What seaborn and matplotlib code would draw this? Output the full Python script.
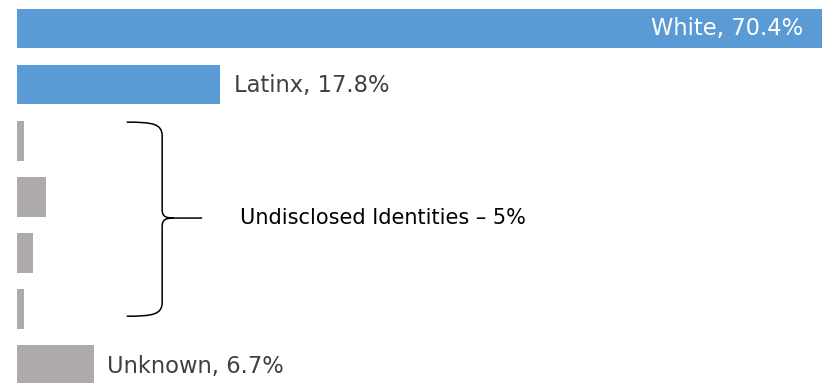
import matplotlib
matplotlib.use("Agg")
import matplotlib.pyplot as plt
import seaborn as sns
import pandas as pd
from matplotlib.path import Path
from matplotlib.patches import PathPatch

# ---- data ----
categories = ["White", "Latinx", "Undisclosed 1", "Undisclosed 2",
              "Undisclosed 3", "Undisclosed 4", "Unknown"]
values = [70.4, 17.8, 0.6, 2.5, 1.4, 0.6, 6.7]
bar_labels = ["White, 70.4%", "Latinx, 17.8%", "", "", "", "", "Unknown, 6.7%"]
group_label = "Undisclosed Identities \u2013 5%"

BLUE = "#5B9BD5"
GREY = "#AEAAAA"
colors = [BLUE, BLUE, GREY, GREY, GREY, GREY, GREY]

df = pd.DataFrame({"category": categories, "value": values})

sns.set_theme(style="white")
plt.rcParams["font.family"] = ["DejaVu Sans"]

fig = plt.figure(figsize=(8.25, 3.83), dpi=100)
ax = fig.add_axes([0, 0, 1, 1])

sns.barplot(data=df, y="category", x="value", hue="category",
            palette=colors, saturation=1, orient="h", width=0.71,
            linewidth=0, legend=False, ax=ax)

ax.set_xlim(-1.487, 70.69)
ax.set_ylim(6.321, -0.508)
ax.axis("off")

# labels
for i, (v, lab) in enumerate(zip(values, bar_labels)):
    if not lab:
        continue
    if i == 0:
        ax.text(v - 1.65, i, lab, ha="right", va="center", color="white",
                fontsize=16.3)
    else:
        ax.text(v + 1.15, i + 0.02, lab, ha="left", va="center",
                color="#404040", fontsize=16.3)

# brace around undisclosed bars
x0, x1, x2 = 9.6, 12.7, 16.2
yt, ym, yb = 1.67, 3.38, 5.13
verts = [
    (x0, yt), (x1 - 0.8, yt), (x1, yt + 0.03), (x1, yt + 0.25),
    (x1, ym - 0.15),
    (x1, ym - 0.03), (x1 + 0.3, ym), (x1 + 1.0, ym),
    (x2, ym),
    (x1 + 1.0, ym),
    (x1 + 0.3, ym), (x1, ym + 0.03), (x1, ym + 0.15),
    (x1, yb - 0.25),
    (x1, yb - 0.03), (x1 - 0.8, yb), (x0, yb),
]
codes = [Path.MOVETO, Path.CURVE4, Path.CURVE4, Path.CURVE4,
         Path.LINETO,
         Path.CURVE4, Path.CURVE4, Path.CURVE4,
         Path.LINETO,
         Path.MOVETO,
         Path.CURVE4, Path.CURVE4, Path.CURVE4,
         Path.LINETO,
         Path.CURVE4, Path.CURVE4, Path.CURVE4]
ax.add_patch(PathPatch(Path(verts, codes), fill=False, edgecolor="black",
                       linewidth=1.1))

ax.text(19.5, ym, group_label, ha="left", va="center", color="black",
        fontsize=15)

fig.savefig("out.png", dpi=100)
